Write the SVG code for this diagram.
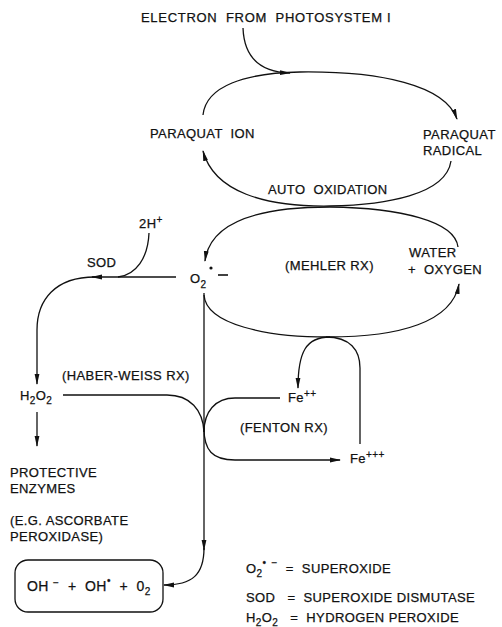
<svg xmlns="http://www.w3.org/2000/svg" width="502" height="627" viewBox="0 0 502 627">
<style>
text{font-family:"Liberation Sans",Arial,sans-serif;font-size:13px;fill:#111;stroke:#111;stroke-width:0.25;letter-spacing:0.4px;white-space:pre}
.s{font-size:10px}
.c{fill:none;stroke:#111;stroke-width:1.3}
</style>
<defs>
<marker id="a" markerWidth="11" markerHeight="6" refX="10" refY="3" orient="auto" markerUnits="userSpaceOnUse">
<path d="M0,0.6 L11,3 L0,5.4 Z" fill="#111"/>
</marker>
</defs>
<rect width="502" height="627" fill="#fff"/>
<g id="connectors">
<path class="c" d="M243,28 C244,55 258,72 290,73" marker-end="url(#a)"/>
<path class="c" d="M203,115 C206,86 245,73 300,72 C380,71 445,85 457,119" marker-end="url(#a)"/>
<path class="c" d="M451,161 C446,195 385,205 330,206 C265,207 214,192 203,151" marker-end="url(#a)"/>
<path class="c" d="M458,247 C455,221 400,208 330,207 C258,207 210,222 205,261" marker-end="url(#a)"/>
<path class="c" d="M149,233 C148,258 136,275 118,277"/>
<path class="c" d="M176,277 L92,277" marker-end="url(#a)"/>
<path class="c" d="M95,277 C55,277 37,300 37,330 L37,384" marker-end="url(#a)"/>
<path class="c" d="M37,412 L37,446" marker-end="url(#a)"/>
<path class="c" d="M204,293 L204,550" marker-end="url(#a)"/>
<path class="c" d="M204,548 C204,575 192,585 164,585" marker-end="url(#a)"/>
<path class="c" d="M204,295 C206,325 268,337 328,337 C400,337 452,322 459,284" marker-end="url(#a)"/>
<path class="c" d="M330,337 C306,337 298,352 298,388" marker-end="url(#a)"/>
<path class="c" d="M326,337 C350,337 360,350 360,368 L360,444"/>
<path class="c" d="M63,395 L167,395 C190,395 203,410 204,432"/>
<path class="c" d="M280,398 L235,398 C215,398 204,412 204,432"/>
<path class="c" d="M204,428 C204,450 212,460 235,460 L340,460" marker-end="url(#a)"/>
</g>
<g id="electron"><text x="141" y="22" textLength="250" lengthAdjust="spacing">ELECTRON  FROM  PHOTOSYSTEM I</text></g>
<g id="paraquat-ion"><text x="150" y="138">PARAQUAT  ION</text></g>
<g id="paraquat-radical"><text x="423" y="139">PARAQUAT</text><text x="423" y="155">RADICAL</text></g>
<g id="auto-oxidation"><text x="268" y="194">AUTO  OXIDATION</text></g>
<g id="h-plus"><text x="139" y="228">2H<tspan class="s" dy="-5">+</tspan></text></g>
<g id="sod"><text x="87" y="267">SOD</text></g>
<g id="superoxide"><text x="190" y="283">O<tspan class="s" dy="5">2</tspan></text><circle cx="211" cy="268" r="1.6" fill="#111"/><path d="M218,275 L228,275" stroke="#111" stroke-width="1.6"/></g>
<g id="mehler"><text x="285" y="270">(MEHLER RX)</text></g>
<g id="water-oxygen"><text x="409" y="257">WATER</text><text x="408" y="274">+  OXYGEN</text></g>
<g id="h2o2"><text x="20" y="400">H<tspan class="s" dy="4">2</tspan><tspan dy="-4">O</tspan><tspan class="s" dy="4">2</tspan></text></g>
<g id="haber-weiss"><text x="62" y="380">(HABER-WEISS RX)</text></g>
<g id="fe2"><text x="288" y="402">Fe<tspan class="s" dy="-5">++</tspan></text></g>
<g id="fenton"><text x="240" y="432">(FENTON RX)</text></g>
<g id="fe3"><text x="350" y="463">Fe<tspan class="s" dy="-5">+++</tspan></text></g>
<g id="protective"><text x="10" y="477">PROTECTIVE</text><text x="10" y="493">ENZYMES</text><text x="10" y="525">(E.G. ASCORBATE</text><text x="10" y="541">PEROXIDASE)</text></g>
<g id="products"><rect x="15" y="560" width="148" height="52" rx="13" fill="none" stroke="#111" stroke-width="1.3"/><text x="27" y="591" style="font-size:14px">OH <tspan class="s" dy="-5">−</tspan><tspan dy="5">  +  OH</tspan><tspan class="s" dy="-7">•</tspan><tspan dy="7">  +  0</tspan><tspan class="s" dy="4">2</tspan></text></g>
<g id="legend">
<text x="246" y="573">O<tspan class="s" dy="4">2</tspan><tspan class="s" dy="-11">•</tspan><tspan class="s" dx="2"> −</tspan><tspan dy="7">  =  SUPEROXIDE</tspan></text>
<text x="246" y="602">SOD   =  SUPEROXIDE DISMUTASE</text>
<text x="246" y="622">H<tspan class="s" dy="4">2</tspan><tspan dy="-4">O</tspan><tspan class="s" dy="4">2</tspan><tspan dy="-4">   =  HYDROGEN PEROXIDE</tspan></text>
</g>
</svg>
